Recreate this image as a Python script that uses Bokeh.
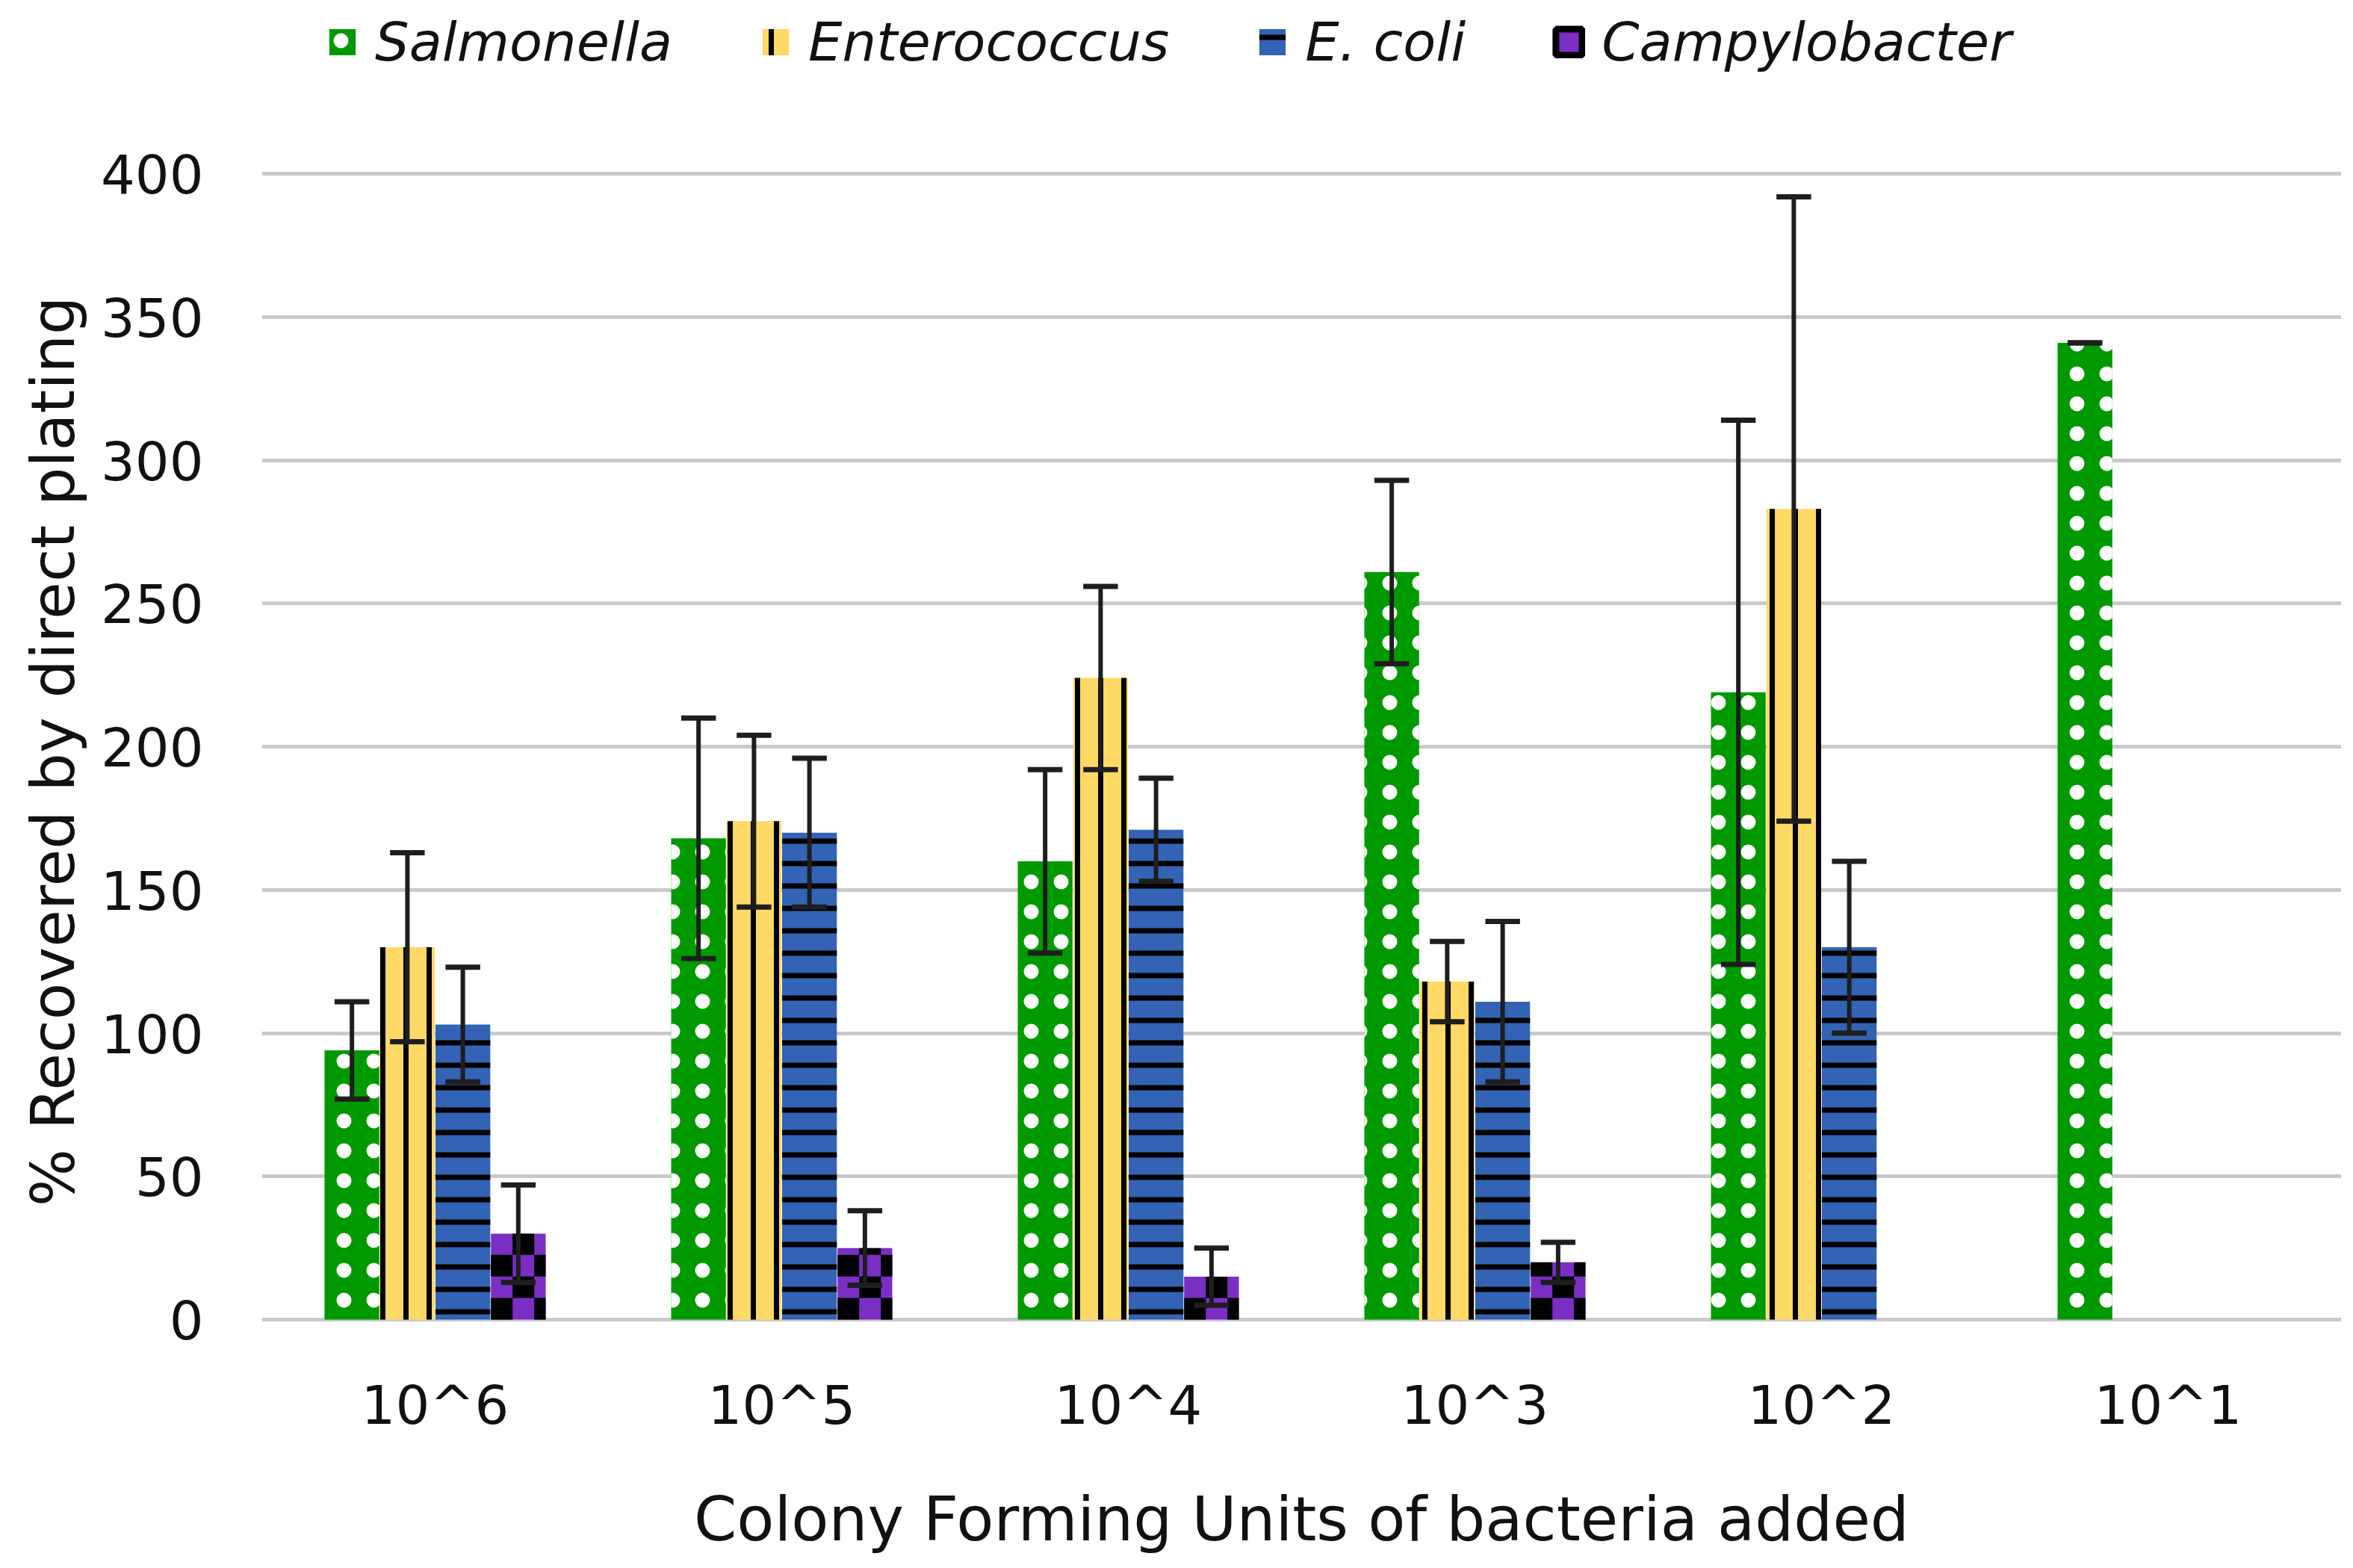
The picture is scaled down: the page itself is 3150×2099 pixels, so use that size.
from bokeh.plotting import figure
from bokeh.models import ColumnDataSource, FactorRange, Range1d, Legend, LegendItem, FixedTicker, Title
from bokeh.transform import dodge
from bokeh.embed import file_html
from bokeh.resources import INLINE

# ---------------- data ----------------
categories = ["10^6", "10^5", "10^4", "10^3", "10^2", "10^1"]
series_names = ["Salmonella", "Enterococcus", "E. coli", "Campylobacter"]
salmonella = [94, 168, 160, 261, 219, 341]
salmonella_err = [17, 42, 32, 32, 95, 0]
enterococcus = [130, 174, 224, 118, 283, None]
enterococcus_err = [33, 30, 32, 14, 109, None]
ecoli = [103, 170, 171, 111, 130, None]
ecoli_err = [20, 26, 18, 28, 30, None]
campylobacter = [30, 25, 15, 20, None, None]
campylobacter_err = [17, 13, 10, 7, None, None]
y_ticks = [0, 50, 100, 150, 200, 250, 300, 350, 400]

# ---------------- styles ----------------
offsets = [-0.24, -0.08, 0.08, 0.24]
bar_w = 0.158
cap_w = 0.10
styles = [
    dict(fill_color="#009a00", hatch_pattern="dot", hatch_color="white", hatch_scale=40, hatch_weight=1),
    dict(fill_color="#ffd966", hatch_pattern="vertical_line", hatch_color="black", hatch_scale=31, hatch_weight=7),
    dict(fill_color="#3263b4", hatch_pattern="horizontal_line", hatch_color="black", hatch_scale=30, hatch_weight=7),
    dict(fill_color="#7a2ec4"),
]
all_vals = [salmonella, enterococcus, ecoli, campylobacter]
all_errs = [salmonella_err, enterococcus_err, ecoli_err, campylobacter_err]

FONT = "DejaVu Sans"
TXT = "#111111"

W, H = 3134, 2083
BL, BR, BT, BB = 350, 0, 0, 305
FRAME_H = H - BT - BB
PX_PER_UNIT = 1539 / 400.0
y_start = -6 / PX_PER_UNIT
y_end = (FRAME_H - 6) / PX_PER_UNIT

p = figure(x_range=FactorRange(*categories), y_range=Range1d(y_start, y_end),
           width=W, height=H, output_backend="svg", toolbar_location=None,
           min_border_left=BL, min_border_right=BR, min_border_top=BT, min_border_bottom=BB)
p.outline_line_color = None
p.background_fill_color = "white"
p.xgrid.grid_line_color = None
p.ygrid.grid_line_color = "#c9c9c9"
p.ygrid.grid_line_width = 5
p.yaxis.ticker = FixedTicker(ticks=y_ticks)

for ax in (p.xaxis[0], p.yaxis[0]):
    ax.axis_line_color = None
    ax.major_tick_line_color = None
    ax.minor_tick_line_color = None
    ax.major_label_text_font = FONT
    ax.major_label_text_font_size = "72px"
    ax.major_label_text_color = TXT
    ax.axis_label_text_font = FONT
    ax.axis_label_text_font_style = "normal"
    ax.axis_label_text_color = TXT

p.yaxis.major_label_standoff = 72
p.xaxis.axis_label = "Colony Forming Units of bacteria added"
p.xaxis.axis_label_text_font_size = "82px"
p.xaxis.major_label_standoff = 60
p.xaxis.axis_label_standoff = 60

ytitle = Title(text="% Recovered by direct plating", align="right", offset=396,
               text_font=FONT, text_font_size="81px", text_font_style="normal",
               text_color=TXT, standoff=30)
p.add_layout(ytitle, "left")

legend_renderers = []
sources = []
for i, (vals, errs) in enumerate(zip(all_vals, all_errs)):
    cats = [c for c, v in zip(categories, vals) if v is not None]
    tops = [v for v in vals if v is not None]
    es = [e for e in errs if e is not None]
    src = ColumnDataSource(dict(cat=cats, top=tops,
                                up=[t + e for t, e in zip(tops, es)],
                                lo=[t - e for t, e in zip(tops, es)]))
    r = p.vbar(x=dodge("cat", offsets[i], range=p.x_range), top="top", bottom=0,
               width=bar_w, source=src, line_color=None, **styles[i])
    legend_renderers.append(r)
    sources.append(src)

# checkerboard for Campylobacter (black squares over purple bar)
sq_px = 29.0
cat_px = (W - BL - BR) / 6.0
dx = sq_px / cat_px
dy = sq_px / PX_PER_UNIT
camp_off = offsets[3]
left0 = camp_off - bar_w / 2
ncols = 0
while left0 + ncols * dx < camp_off + bar_w / 2 - 1e-9:
    ncols += 1
for j in range(ncols):
    l = left0 + j * dx
    rgt = min(l + dx, camp_off + bar_w / 2)
    qc, qb, qt = [], [], []
    for c, v in zip(categories, campylobacter):
        if v is None:
            continue
        k = 0
        while k * dy < v:
            if (j + k) % 2 == 0:
                qc.append(c)
                qb.append(k * dy)
                qt.append(min((k + 1) * dy, v))
            k += 1
    qs = ColumnDataSource(dict(cat=qc, b=qb, t=qt))
    p.quad(left=dodge("cat", l, range=p.x_range), right=dodge("cat", rgt, range=p.x_range),
           bottom="b", top="t", source=qs, fill_color="black", line_color=None)

# error bars
ERR_COLOR = "#1e1e1e"
for i, src in enumerate(sources):
    off = offsets[i]
    p.segment(x0=dodge("cat", off, range=p.x_range), x1=dodge("cat", off, range=p.x_range),
              y0="lo", y1="up", source=src, line_color=ERR_COLOR, line_width=6)
    for fld in ("lo", "up"):
        p.segment(x0=dodge("cat", off - cap_w / 2, range=p.x_range),
                  x1=dodge("cat", off + cap_w / 2, range=p.x_range),
                  y0=fld, y1=fld, source=src, line_color=ERR_COLOR, line_width=7)

# legend-only look for Campylobacter (hidden renderer sharing the same data)
camp_proxy = p.vbar(x=dodge("cat", offsets[3], range=p.x_range), top="top", bottom=0,
                    width=bar_w, source=sources[3], fill_color="#7a2ec4",
                    line_color="black", line_width=9, visible=False)
legend_renderers[3] = camp_proxy

items = [LegendItem(label=n, renderers=[r]) for n, r in zip(series_names, legend_renderers)]
legend = Legend(items=items, orientation="horizontal", location=(86, FRAME_H - 104),
                padding=0, margin=0, spacing=116, glyph_width=44, glyph_height=44,
                label_standoff=22, label_text_font=FONT, label_text_font_style="italic",
                label_text_font_size="72px", label_text_color=TXT,
                border_line_color=None, background_fill_alpha=0, inactive_fill_alpha=0)
p.add_layout(legend)

open("out.html", "w").write(file_html(p, INLINE))
